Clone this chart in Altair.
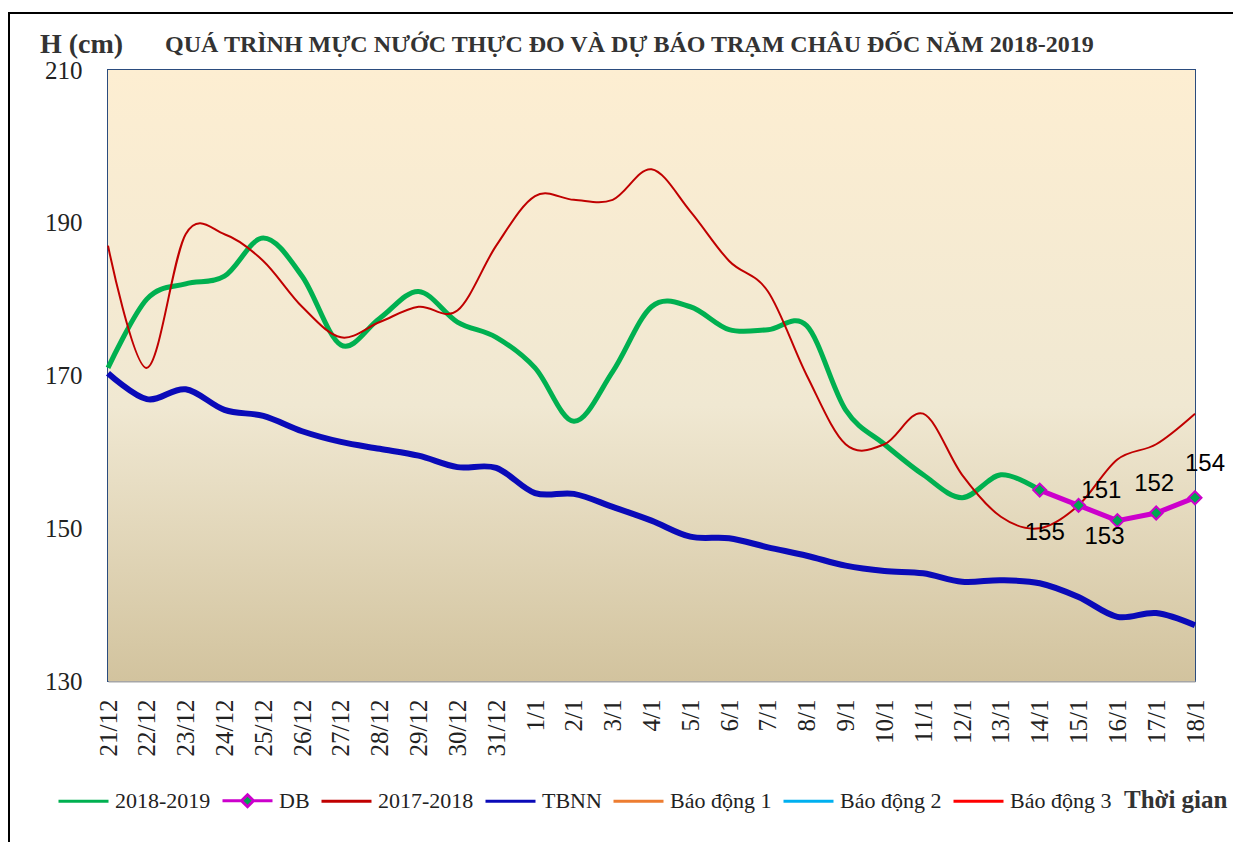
import altair as alt
import pandas as pd

# ---------------- data ----------------
days = ["21/12", "22/12", "23/12", "24/12", "25/12", "26/12", "27/12", "28/12", "29/12", "30/12", "31/12",
        "1/1", "2/1", "3/1", "4/1", "5/1", "6/1", "7/1", "8/1", "9/1", "10/1", "11/1", "12/1", "13/1",
        "14/1", "15/1", "16/1", "17/1", "18/1"]

# observed 2018-2019 (21/12 .. 14/1)
obs_days = days[:25]
h_2018_2019 = [171, 180, 182, 183, 188, 183, 174, 177.5, 181, 177, 175,
               171, 164, 170.5, 179, 179, 176, 176, 176.5, 165.5, 161, 157, 154, 157, 155]

# forecast (DB)
db_days = ["14/1", "15/1", "16/1", "17/1", "18/1"]
db_values = [155, 153, 151, 152, 154]

# 2017-2018
h_2017_2018 = [187, 171, 188.5, 188.5, 185, 179, 175, 177, 179, 178.5, 187,
               193.5, 193, 193, 197, 191.5, 185, 181, 170, 161, 161, 165, 157, 151.5,
               150, 153, 159, 161, 165]

# TBNN (multi-year average)
tbnn = [170.3, 166.9, 168.2, 165.5, 164.7, 162.7, 161.3, 160.4, 159.5, 158, 157.9,
        154.6, 154.5, 152.8, 151, 148.9, 148.7, 147.5, 146.4, 145.1, 144.4, 144.1, 143, 143.2,
        142.8, 141, 138.4, 138.9, 137.3]

y_ticks = [130, 150, 170, 190, 210]

legend_names = ["2018-2019", "DB", "2017-2018", "TBNN", "Báo động 1", "Báo động 2", "Báo động 3"]
legend_colors = ["#00B050", "#CC00CC", "#C00000", "#0A0AB8", "#ED7D31", "#00B0F0", "#FF0000"]

title_text = "QUÁ TRÌNH MỰC NƯỚC THỰC ĐO VÀ DỰ BÁO TRẠM CHÂU ĐỐC NĂM  2018-2019"

# ---------------- layout / style ----------------
W, H = 1087, 611
SERIF = "Liberation Serif"
SANS = "Liberation Sans"

line_path = "M-1,0L1,0"
db_path = "M-1,0L-0.24,0M0.24,0L1,0M0,-0.24L0.24,0L0,0.24L-0.24,0Z"
legend_shapes = [line_path, db_path] + [line_path] * 5

x_enc = alt.X("day:O", sort=days,
              scale=alt.Scale(type="point", padding=0, domain=days),
              axis=alt.Axis(title=None, labelAngle=-90, labelFont=SERIF, labelFontSize=25,
                            labelColor="#222222", labelPadding=18, ticks=False, grid=False,
                            domainColor="#A6A6A6", domainWidth=2, labelOverlap=False))
y_enc = alt.Y("h:Q", scale=alt.Scale(domain=[130, 210], nice=False, zero=False),
              axis=alt.Axis(title=None, values=y_ticks, labelFont=SERIF, labelFontSize=25,
                            labelColor="#222222", labelPadding=26, ticks=False, grid=False,
                            domain=False))

df_obs = pd.DataFrame({"day": obs_days, "h": h_2018_2019})
df_db = pd.DataFrame({"day": db_days, "h": db_values})
df_prev = pd.DataFrame({"day": days, "h": h_2017_2018})
df_tbnn = pd.DataFrame({"day": days, "h": tbnn})
one = pd.DataFrame({"k": [0]})

bg = alt.Chart(one).mark_rect(
    fill=alt.LinearGradient(gradient="linear", x1=0, x2=0, y1=0, y2=1,
                            stops=[alt.GradientStop(offset=0, color="#FDEED2"),
                                   alt.GradientStop(offset=0.55, color="#F0E8D2"),
                                   alt.GradientStop(offset=1, color="#D2C39E")])
).encode(x=alt.value(0), x2=alt.value(W), y=alt.value(0), y2=alt.value(H))

frame = alt.Chart(one).mark_rect(fillOpacity=0, stroke="#000000", strokeWidth=2).encode(
    x=alt.value(-99), x2=alt.value(W + 300), y=alt.value(-57), y2=alt.value(H + 400))

green = alt.Chart(df_obs).mark_line(color="#00B050", strokeWidth=5, interpolate="cardinal").encode(x=x_enc, y=y_enc)
dbline = alt.Chart(df_db).mark_line(color="#CC00CC", strokeWidth=5).encode(x=x_enc, y=y_enc)
red = alt.Chart(df_prev).mark_line(color="#C00000", strokeWidth=2, interpolate="cardinal").encode(x=x_enc, y=y_enc)
blue = alt.Chart(df_tbnn).mark_line(color="#0A0AB8", strokeWidth=6, interpolate="cardinal").encode(x=x_enc, y=y_enc)
dbpts = alt.Chart(df_db).mark_point(shape="diamond", size=170, filled=True, fill="#00A651",
                                    stroke="#CC00CC", strokeWidth=2, opacity=1).encode(x=x_enc, y=y_enc)

# data labels with Excel-like offsets
label_offsets = [(5, 43), (26, 32), (-16, -30), (-2, -29), (10, -34)]
label_layers = []
for d, (dx, dy) in zip(db_days, label_offsets):
    label_layers.append(
        alt.Chart(df_db).transform_filter(alt.datum.day == d).mark_text(
            font=SANS, fontSize=24, color="#000000", dx=dx, dy=dy
        ).encode(x=x_enc, y=y_enc, text=alt.Text("h:Q", format="d"))
    )

leg_kwargs = dict(orient="none", legendX=-51, legendY=704, direction="horizontal", columns=7,
                  title=None, labelFont=SERIF, labelFontSize=22, labelColor="#222222",
                  symbolSize=2500, symbolStrokeWidth=3, symbolOpacity=1, labelOffset=5,
                  columnPadding=5, labelLimit=0, symbolFillColor="#00A651")
legend_df = pd.DataFrame({"series": legend_names})
legend_layer = alt.Chart(legend_df).mark_point(filled=True, fill="#00A651", opacity=0, strokeWidth=3).encode(
    stroke=alt.Stroke("series:N", scale=alt.Scale(domain=legend_names, range=legend_colors),
                      legend=alt.Legend(**leg_kwargs)),
    shape=alt.Shape("series:N", scale=alt.Scale(domain=legend_names, range=legend_shapes),
                    legend=alt.Legend(**leg_kwargs)),
)

h_label = alt.Chart(one).mark_text(text="H (cm)", font=SERIF, fontSize=28, fontWeight="bold",
                                   color="#333333", align="left", baseline="middle").encode(
    x=alt.value(-68), y=alt.value(-25))
title = alt.Chart(one).mark_text(text=title_text, font=SERIF, fontSize=24, fontWeight="bold",
                                 color="#333333", align="left", baseline="middle").encode(
    x=alt.value(57), y=alt.value(-25))
time_label = alt.Chart(one).mark_text(text="Thời gian", font=SERIF, fontSize=25, fontWeight="bold",
                                      color="#333333", align="left", baseline="middle").encode(
    x=alt.value(1016), y=alt.value(730))

chart = alt.layer(
    bg, frame, green, dbline, red, blue, dbpts, *label_layers, legend_layer, h_label, title, time_label
).properties(
    width=W, height=H,
    autosize=alt.AutoSizeParams(type="none"),
    padding={"left": 100, "top": 62, "right": 38, "bottom": 161},
    background="white",
).configure_view(stroke="#2B4C7E", strokeWidth=2)

chart.save("out.html", embed_options={"renderer": "svg", "actions": False})
